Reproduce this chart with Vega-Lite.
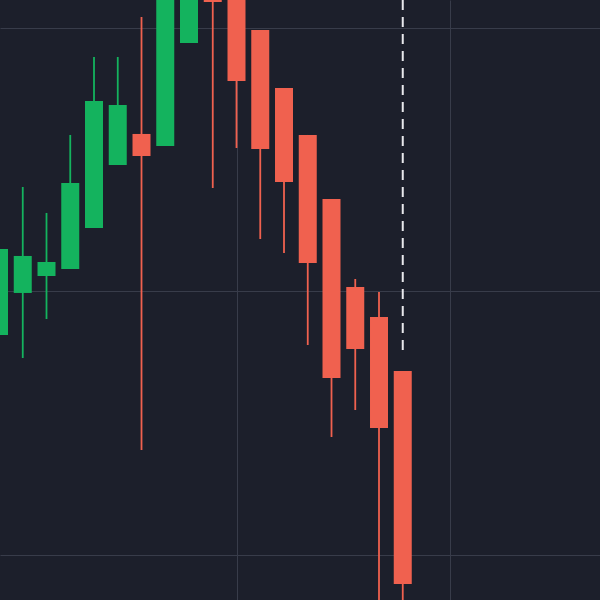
{
  "$schema": "https://vega.github.io/schema/vega-lite/v6.json",
  "autosize": "none",
  "width": 600,
  "height": 600,
  "padding": 0,
  "background": "#1c1f2b",
  "config": {"view": {"stroke": null}},
  "datasets": {
    "candles": [
      {"i": 0, "open": 141.75, "high": 158.06, "low": 141.75, "close": 158.06},
      {"i": 1, "open": 149.72, "high": 169.83, "low": 137.38, "close": 156.74},
      {"i": 2, "open": 152.94, "high": 164.90, "low": 144.78, "close": 155.60},
      {"i": 3, "open": 154.27, "high": 179.70, "low": 154.27, "close": 170.59},
      {"i": 4, "open": 162.05, "high": 194.50, "low": 162.05, "close": 186.15},
      {"i": 5, "open": 174.00, "high": 194.50, "low": 174.00, "close": 185.39},
      {"i": 6, "open": 179.89, "high": 202.09, "low": 119.92, "close": 175.71},
      {"i": 7, "open": 177.61, "high": 216.00, "low": 177.61, "close": 212.00},
      {"i": 8, "open": 197.15, "high": 222.00, "low": 197.15, "close": 218.00},
      {"i": 9, "open": 209.00, "high": 215.00, "low": 169.64, "close": 204.93},
      {"i": 10, "open": 210.00, "high": 214.00, "low": 177.23, "close": 189.94},
      {"i": 11, "open": 199.62, "high": 199.62, "low": 159.96, "close": 177.04},
      {"i": 12, "open": 188.61, "high": 188.61, "low": 157.31, "close": 170.78},
      {"i": 13, "open": 179.70, "high": 179.70, "low": 139.85, "close": 155.41},
      {"i": 14, "open": 167.55, "high": 167.55, "low": 122.39, "close": 133.59},
      {"i": 15, "open": 150.85, "high": 152.37, "low": 127.51, "close": 139.09},
      {"i": 16, "open": 145.16, "high": 149.91, "low": 85.00, "close": 124.10},
      {"i": 17, "open": 134.91, "high": 134.91, "low": 85.00, "close": 94.50}
    ],
    "marker": [
      {"i": 17, "from": 138.71, "to": 215}
    ]
  },
  "layer": [
    {
      "data": {"name": "candles"},
      "mark": {"type": "rule", "strokeWidth": 1.8, "clip": true},
      "encoding": {
        "x": {"field": "i", "type": "quantitative", "scale": {"domain": [0.042, 25.305], "nice": false, "zero": false, "padding": 0},
              "axis": {"values": [10, 19], "grid": true, "gridColor": "#383c4a", "gridWidth": 1, "labels": false, "ticks": false, "domain": false, "title": null}},
        "y": {"field": "low", "type": "quantitative", "scale": {"domain": [91.46, 205.31], "nice": false, "zero": false, "padding": 0},
              "axis": {"values": [100, 150, 200], "grid": true, "gridColor": "#383c4a", "gridWidth": 1, "labels": false, "ticks": false, "domain": false, "title": null}},
        "y2": {"field": "high"},
        "color": {"condition": {"test": "datum.close > datum.open", "value": "#14b35e"}, "value": "#f0614f"}
      }
    },
    {
      "data": {"name": "candles"},
      "mark": {"type": "bar", "size": 18, "clip": true},
      "encoding": {
        "x": {"field": "i", "type": "quantitative"},
        "y": {"field": "open", "type": "quantitative"},
        "y2": {"field": "close"},
        "color": {"condition": {"test": "datum.close > datum.open", "value": "#14b35e"}, "value": "#f0614f"}
      }
    },
    {
      "data": {"name": "marker"},
      "mark": {"type": "rule", "color": "#e8e8ec", "strokeWidth": 2, "strokeDash": [10, 7], "clip": true},
      "encoding": {
        "x": {"field": "i", "type": "quantitative"},
        "y": {"field": "to", "type": "quantitative"},
        "y2": {"field": "from"}
      }
    }
  ]
}
